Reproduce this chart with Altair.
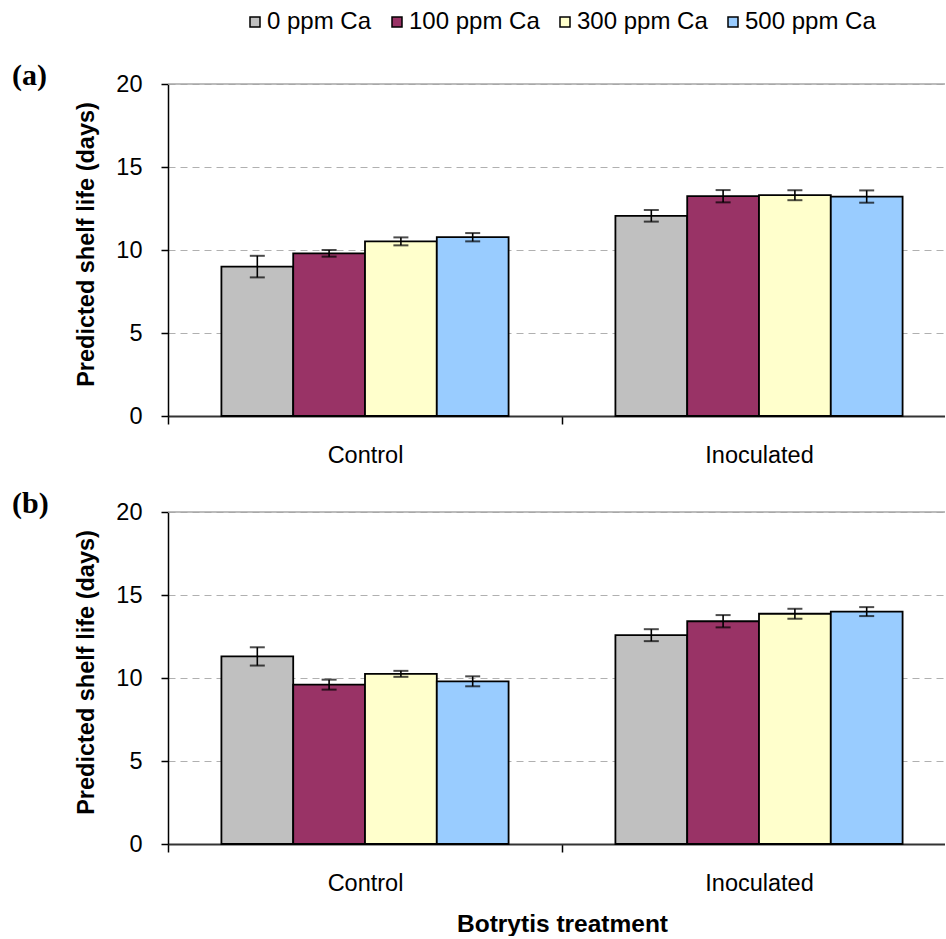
import altair as alt
import pandas as pd

treatments = ["Control", "Inoculated"]
calcium_levels = ["0 ppm Ca", "100 ppm Ca", "300 ppm Ca", "500 ppm Ca"]
bar_colors = ["#C0C0C0", "#993366", "#FFFFCC", "#99CCFF"]
y_ticks = [0, 5, 10, 15, 20]

# Panel (a): mean predicted shelf life (days) and error half-width per Ca level
a_control_mean = [9.0, 9.8, 10.52, 10.77]
a_control_err = [0.65, 0.2, 0.24, 0.25]
a_inoculated_mean = [12.06, 13.24, 13.3, 13.22]
a_inoculated_err = [0.35, 0.37, 0.3, 0.37]

# Panel (b)
b_control_mean = [11.3, 9.6, 10.25, 9.8]
b_control_err = [0.55, 0.3, 0.18, 0.3]
b_inoculated_mean = [12.58, 13.42, 13.87, 14.0]
b_inoculated_err = [0.36, 0.37, 0.3, 0.27]


def make_frame(control_mean, control_err, inoc_mean, inoc_err):
    rows = []
    groups = [("Control", control_mean, control_err),
              ("Inoculated", inoc_mean, inoc_err)]
    for treatment, means, errs in groups:
        for level, m, e in zip(calcium_levels, means, errs):
            rows.append({"treatment": treatment, "calcium": level,
                         "mean": m, "low": m - e, "high": m + e})
    return pd.DataFrame(rows)


legend = alt.Legend(
    title=None, orient="none", direction="horizontal", columns=4,
    legendX=75, legendY=-74, padding=0,
    symbolType="square", symbolSize=100, symbolStrokeColor="black",
    symbolStrokeWidth=1.5, symbolOpacity=1,
    labelFontSize=24, labelColor="black", labelOffset=0, columnPadding=13,
)


def panel(df, tag, x_title):
    x_axis = alt.Axis(
        title=x_title, labelAngle=0, tickBand="extent", grid=False,
        domainColor="#333333", domainWidth=2,
        tickColor="black", tickSize=8, tickWidth=1.5,
        labelFontSize=23.5, labelColor="black", labelPadding=19.5,
        titleFontSize=24.5, titleFontWeight="bold", titleColor="black",
        titlePadding=17,
    )
    y_axis = alt.Axis(
        values=y_ticks, title="Predicted shelf life (days)",
        grid=True, gridDash=[7, 5], gridColor="#b0b0b0", gridWidth=1,
        domainColor="black", domainWidth=1.5,
        tickColor="black", tickSize=7, tickWidth=1.5,
        labelFontSize=23.5, labelColor="black", labelPadding=19,
        titleFontSize=23.5, titleFontWeight="bold", titleColor="black",
        titleX=-70, titleY=160, titleBaseline="bottom", titleAlign="center",
    )
    x_enc = alt.X("treatment:N", sort=treatments, axis=x_axis,
                  scale=alt.Scale(paddingInner=0, paddingOuter=0))
    off_enc = alt.XOffset("calcium:N", sort=calcium_levels,
                          scale=alt.Scale(paddingInner=0, paddingOuter=0.744))
    y_scale = alt.Scale(domain=[0, 20], nice=False)

    base = alt.Chart(df)
    # solid border line along the top of the value range
    top_line = alt.Chart(pd.DataFrame({"v": [y_ticks[-1]]})).mark_rule(
        color="#a6a6a6", strokeWidth=1.5
    ).encode(y=alt.Y("v:Q", scale=y_scale, axis=y_axis))
    bars = base.mark_bar(stroke="black", strokeWidth=1.8).encode(
        x=x_enc, xOffset=off_enc,
        y=alt.Y("mean:Q", scale=y_scale, axis=y_axis),
        color=alt.Color("calcium:N", sort=calcium_levels,
                        scale=alt.Scale(domain=calcium_levels, range=bar_colors),
                        legend=legend),
    )
    stems = base.mark_rule(color="black", strokeWidth=1.6).encode(
        x=x_enc, xOffset=off_enc,
        y=alt.Y("low:Q", scale=y_scale, axis=y_axis), y2="high:Q",
    )
    caps_high = base.mark_tick(color="black", thickness=2, size=15).encode(
        x=x_enc, xOffset=off_enc,
        y=alt.Y("high:Q", scale=y_scale, axis=y_axis),
    )
    caps_low = base.mark_tick(color="black", thickness=2, size=15).encode(
        x=x_enc, xOffset=off_enc,
        y=alt.Y("low:Q", scale=y_scale, axis=y_axis),
    )
    label = alt.Chart(pd.DataFrame({"tag": [tag]})).mark_text(
        align="left", baseline="top", font="Liberation Serif",
        fontWeight="bold", fontSize=30, color="black",
    ).encode(text="tag:N", x=alt.value(-156), y=alt.value(-23))

    return alt.layer(top_line, bars, stems, caps_high, caps_low, label).properties(
        width=788, height=332
    )


panel_a = panel(make_frame(a_control_mean, a_control_err,
                           a_inoculated_mean, a_inoculated_err), "(a)", None)
panel_b = panel(make_frame(b_control_mean, b_control_err,
                           b_inoculated_mean, b_inoculated_err), "(b)",
                "Botrytis treatment")

# The right end of the category axis runs past the page edge and is cut off.
chart = alt.vconcat(panel_a, panel_b, spacing=22).properties(
    padding={"left": 12, "top": 10, "right": -12, "bottom": 0}
).configure(
    font="Liberation Sans"
).configure_view(
    stroke=None
)

chart.save("out.html", embed_options={"renderer": "svg", "actions": False})
